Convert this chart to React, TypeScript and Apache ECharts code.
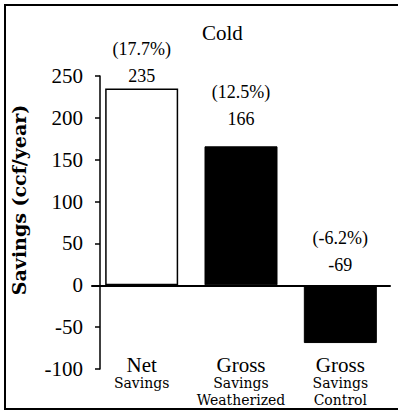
import React, { useEffect, useRef } from "react";
import * as echarts from "echarts";

const categories = ["Net Savings", "Gross Savings Weatherized", "Gross Savings Control"];
const categoryMain = ["Net", "Gross", "Gross"];
const categorySub = [["Savings"], ["Savings", "Weatherized"], ["Savings", "Control"]];
const savings = [235, 166, -69];
const percents = ["(17.7%)", "(12.5%)", "(-6.2%)"];
const yTicks = [-100, -50, 0, 50, 100, 150, 200, 250];

const labelDistances = [1, 15, 8];
const SERIF = "'Liberation Serif', 'Times New Roman', serif";
const SUBFONT = "'DejaVu Serif', serif";

export default function App() {
  const ref = useRef<HTMLDivElement>(null);
  useEffect(() => {
    document.body.style.margin = "0";
    if (!ref.current) return;
    const chart = echarts.init(ref.current, null, { renderer: "svg" });
    const data = savings.map((v, i) => ({
      value: v,
      itemStyle:
        i === 0
          ? { color: "#ffffff", borderColor: "#000", borderWidth: 1.5 }
          : { color: "#000000", borderColor: "#000", borderWidth: 1 },
      label: { distance: labelDistances[i], position: "top" },
    }));
    chart.setOption({
      animation: false,
      backgroundColor: "#ffffff",
      title: {
        text: "Cold",
        left: 197,
        top: 17,
        textStyle: { fontFamily: SERIF, fontSize: 21, fontWeight: "normal", color: "#000" },
      },
      grid: { left: 92, right: 8, top: 76, bottom: 44, containLabel: false, outerBoundsMode: "none" },
      xAxis: {
        type: "category",
        data: categories,
        axisLine: { onZero: true, lineStyle: { color: "#000", width: 2 } },
        axisTick: { show: false },
        axisLabel: {
          margin: -14,
          interval: 0,
          verticalAlign: "top",
          formatter: (_v: string, idx: number) =>
            `{g|${categoryMain[idx]}}\n` + categorySub[idx].map((s) => `{s|${s}}`).join("\n"),
          rich: {
            g: { fontFamily: SERIF, fontSize: 21, lineHeight: 20, color: "#000" },
            s: { fontFamily: SUBFONT, fontSize: 14, lineHeight: 16.5, color: "#000" },
          },
        },
        splitLine: { show: false },
      },
      yAxis: {
        type: "value",
        min: yTicks[0],
        max: yTicks[yTicks.length - 1],
        interval: 50,
        offset: -8,
        axisLine: { show: true, lineStyle: { color: "#000", width: 1.5 } },
        axisTick: { show: true, inside: false, length: 5, lineStyle: { color: "#000", width: 1.5 } },
        axisLabel: {
          margin: 17,
          fontFamily: SERIF,
          fontSize: 21,
          color: "#000",
        },
        splitLine: { show: false },
      },
      series: [
        {
          type: "bar",
          data,
          barWidth: 73,
          label: {
            show: true,
            position: "top",
            formatter: (p: any) => `{p|${percents[p.dataIndex]}}\n{v|${savings[p.dataIndex]}}`,
            rich: {
              p: { fontFamily: SERIF, fontSize: 18, lineHeight: 30, color: "#000" },
              v: { fontFamily: SERIF, fontSize: 18, lineHeight: 24, color: "#000" },
            },
          },
        },
      ],
      graphic: [
        {
          type: "polyline",
          shape: { points: [[398, 5], [5, 5], [5, 409], [398, 409]] },
          style: { stroke: "#000", lineWidth: 2, fill: null },
          silent: true,
        },
        {
          type: "text",
          x: 19,
          y: 200,
          rotation: Math.PI / 2,
          style: {
            text: "Savings (ccf/year)",
            fontFamily: SUBFONT,
            fontSize: 19,
            fontWeight: "bold",
            fill: "#000",
            align: "center",
            verticalAlign: "middle",
          },
        },
      ],
    });
    return () => chart.dispose();
  }, []);
  return <div ref={ref} style={{ width: 398, height: 413 }} />;
}
